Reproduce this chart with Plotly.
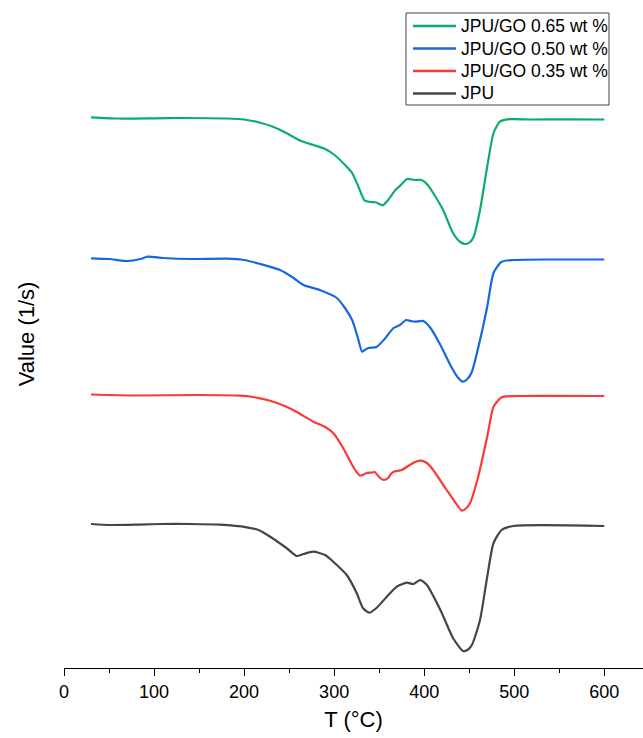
import plotly.graph_objects as go

# DTG curves (derivative of mass loss), relative to each curve's own baseline
T_go065 = [30, 60, 100, 130, 181, 200, 218, 232, 247, 262, 277, 290, 299, 314, 320, 327, 334, 340, 346, 354,
           360, 368, 373, 381, 386, 390, 397, 404, 410, 421, 432, 440, 446, 451, 455, 462, 470, 477, 484, 492,
           520, 560, 600]
V_go065 = [0.017, 0.005, 0.007, 0.010, 0.005, -0.005, -0.037, -0.077, -0.140, -0.215, -0.260, -0.300, -0.350,
           -0.477, -0.540, -0.677, -0.817, -0.830, -0.833, -0.863, -0.810, -0.710, -0.670, -0.600, -0.605, -0.610,
           -0.610, -0.660, -0.740, -0.910, -1.140, -1.230, -1.250, -1.230, -1.177, -0.910, -0.477, -0.140,
           -0.027, -0.003, -0.005, -0.003, -0.005]

T_go050 = [30, 50, 70, 85, 93, 110, 143, 181, 200, 218, 240, 255, 266, 284, 303, 312, 320, 326, 331, 334, 338,
           347, 355, 366, 373, 380, 385, 390, 399, 407, 418, 429, 437, 443, 448, 453, 462, 470, 477, 486, 499,
           540, 600]
V_go050 = [0.007, 0.000, -0.020, 0.000, 0.023, 0.010, 0.000, 0.003, -0.010, -0.050, -0.110, -0.190, -0.260,
           -0.310, -0.390, -0.490, -0.610, -0.777, -0.927, -0.910, -0.890, -0.880, -0.810, -0.690, -0.660, -0.610,
           -0.620, -0.627, -0.620, -0.690, -0.860, -1.060, -1.180, -1.227, -1.200, -1.127, -0.810, -0.477, -0.140,
           -0.027, -0.010, -0.005, -0.005]

T_go035 = [30, 80, 151, 196, 210, 229, 245, 258, 277, 290, 299, 310, 320, 325, 329, 336, 342, 345, 350, 355,
           360, 363, 366, 375, 384, 390, 397, 403, 410, 425, 435, 442, 447, 451, 460, 470, 477, 486, 503, 600]
V_go035 = [0.010, 0.000, 0.005, -0.002, -0.015, -0.052, -0.105, -0.162, -0.262, -0.315, -0.375, -0.525, -0.695,
           -0.765, -0.802, -0.775, -0.770, -0.765, -0.815, -0.845, -0.825, -0.785, -0.762, -0.745, -0.695, -0.665,
           -0.652, -0.675, -0.745, -0.945, -1.075, -1.152, -1.125, -1.075, -0.812, -0.412, -0.112, -0.018,
           -0.005, -0.005]

T_jpu = [30, 51, 80, 107, 140, 173, 203, 216, 229, 247, 258.5, 266, 277, 290, 299, 314, 325, 332, 339, 347,
         358.5, 369.6, 380.7, 388, 395.6, 403, 418, 432, 443, 448, 453, 462, 470, 477, 486, 499, 600]
V_jpu = [0.015, 0.005, 0.008, 0.015, 0.015, 0.008, -0.018, -0.045, -0.112, -0.225, -0.305, -0.285, -0.262,
         -0.295, -0.362, -0.495, -0.675, -0.825, -0.872, -0.825, -0.712, -0.612, -0.572, -0.585, -0.545, -0.595,
         -0.845, -1.125, -1.255, -1.245, -1.195, -0.945, -0.512, -0.175, -0.045, -0.005, -0.005]

series_names = ["JPU/GO 0.65 wt %", "JPU/GO 0.50 wt %", "JPU/GO 0.35 wt %", "JPU"]

# vertical stacking offset applied to each curve
stack_offset = {"JPU/GO 0.65 wt %": 4.065, "JPU/GO 0.50 wt %": 2.665, "JPU/GO 0.35 wt %": 1.30, "JPU": 0.0}
colors = {"JPU/GO 0.65 wt %": "#0BAE68", "JPU/GO 0.50 wt %": "#1668E0",
          "JPU/GO 0.35 wt %": "#F93A3A", "JPU": "#454545"}

data = {
    "JPU/GO 0.65 wt %": (T_go065, V_go065),
    "JPU/GO 0.50 wt %": (T_go050, V_go050),
    "JPU/GO 0.35 wt %": (T_go035, V_go035),
    "JPU": (T_jpu, V_jpu),
}

FONT = "Arial, Liberation Sans, sans-serif"
W, H = 643, 738
ML, MB = 64, 70
PW, PH = W - ML, H - MB


def px(x):
    return (x - ML) / PW


def py(y):
    return (PH - y) / PH


fig = go.Figure()
for name in series_names:
    t, v = data[name]
    off = stack_offset[name]
    fig.add_trace(go.Scatter(
        x=t, y=[val + off for val in v], mode="lines", name=name,
        line=dict(color=colors[name], width=2.2, shape="spline", smoothing=0.6),
    ))

# boxed legend in the upper right corner
shapes = [dict(type="rect", xref="paper", yref="paper",
               x0=px(406), x1=px(609), y0=py(105), y1=py(13),
               line=dict(color="#444444", width=1), fillcolor="white", layer="above")]
annotations = []
row_y = [26, 48.5, 71, 93.5]
for name, ry in zip(series_names, row_y):
    shapes.append(dict(type="line", xref="paper", yref="paper",
                       x0=px(413), x1=px(456), y0=py(ry), y1=py(ry),
                       line=dict(color=colors[name], width=2.4), layer="above"))
    annotations.append(dict(xref="paper", yref="paper", x=px(459), y=py(ry),
                            xanchor="left", yanchor="middle", showarrow=False,
                            text=name, font=dict(family=FONT, size=17.5, color="black")))

fig.update_layout(
    width=W, height=H,
    margin=dict(l=ML, r=0, t=0, b=MB),
    paper_bgcolor="white", plot_bgcolor="white",
    font=dict(family=FONT, color="black"),
    showlegend=False,
    shapes=shapes,
    annotations=annotations,
)

fig.update_xaxes(
    range=[0, 643], showgrid=False, zeroline=False,
    showline=True, linecolor="black", linewidth=1.3,
    ticks="outside", ticklen=7, tickwidth=1.3, tickcolor="black",
    tickvals=[0, 100, 200, 300, 400, 500, 600],
    tickfont=dict(family=FONT, size=18, color="black"),
    minor=dict(ticks="outside", ticklen=4, tickwidth=1.3, tickcolor="black", dtick=50, tick0=0),
    title=dict(text="T (°C)", font=dict(family=FONT, size=22, color="black"), standoff=10),
)

fig.update_yaxes(
    range=[-1.425, 5.255], showgrid=False, zeroline=False, showline=False,
    ticks="", showticklabels=False,
    title=dict(text="Value (1/s)", font=dict(family=FONT, size=22, color="black"), standoff=22),
)

fig.write_html("out.html")
